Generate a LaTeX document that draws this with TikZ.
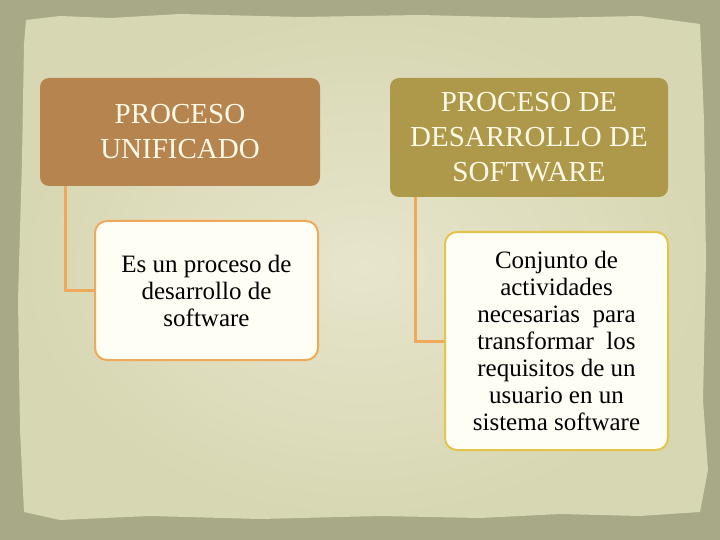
\documentclass[tikz,border=0pt]{standalone}
\usepackage{fontspec}
\setmainfont{Liberation Serif}
\definecolor{frame}{HTML}{A7A987}
\definecolor{paper}{HTML}{D8D7B3}
\definecolor{paperlight}{HTML}{E7E5CB}
\definecolor{brownbox}{HTML}{B6844F}
\definecolor{olivebox}{HTML}{AE984A}
\definecolor{headtext}{HTML}{FFF9E8}
\definecolor{orangeline}{HTML}{F0A95A}
\definecolor{yellowline}{HTML}{E6C34A}

\begin{document}
\begin{tikzpicture}[x=1pt, y=-1pt,
  header/.style={rounded corners=9pt, text=headtext, align=center,
    font=\fontsize{29}{35}\selectfont, inner sep=0pt},
  detail/.style={rounded corners=12pt, fill=white!96!yellow, line width=2pt,
    align=center, font=\fontsize{25}{27}\selectfont, inner sep=0pt},
  stem/.style={draw=orangeline, line width=3pt}]
  \useasboundingbox (0,0) rectangle (720,540);
  % paper background
  \fill[frame] (0,0) rectangle (720,540);
  \shade[inner color=paperlight, outer color=paper]
    (24,44) -- (26,20) -- (60,16) -- (110,18) -- (180,14) -- (300,17)
    -- (420,15) -- (540,18) -- (640,16) -- (700,24) -- (704,120)
    -- (706,260) -- (703,400) -- (708,470) -- (700,512) -- (640,516)
    -- (560,514) -- (480,518) -- (380,516) -- (260,519) -- (150,516)
    -- (60,520) -- (24,512) -- (20,430) -- (18,300) -- (22,160) -- cycle;

  % headers
  \node[header, fill=brownbox, minimum width=280pt, minimum height=108pt]
    (unificado) at (180,132) {PROCESO\\UNIFICADO};
  \node[header, fill=olivebox, minimum width=278pt, minimum height=119pt]
    (desarrollo) at (529,137.5) {PROCESO DE\\DESARROLLO DE\\SOFTWARE};

  % descriptions
  \node[detail, draw=orangeline, minimum width=223pt, minimum height=139pt]
    (unificadodef) at (206.5,290.5) {Es un proceso de\\desarrollo de\\software};
  \node[detail, draw=yellowline, minimum width=223pt, minimum height=218pt]
    (desarrollodef) at (556.5,341)
    {Conjunto de\\actividades\\necesarias\ \ para\\transformar\ \ los\\requisitos de un\\usuario en un\\sistema software};

  % connectors
  \coordinate (unificadostem) at ([xshift=26pt]unificado.south west);
  \coordinate (desarrollostem) at ([xshift=26pt]desarrollo.south west);
  \draw[stem] (unificadostem) |- (unificadodef.west);
  \draw[stem] (desarrollostem) |- (desarrollodef.west);
\end{tikzpicture}
\end{document}
